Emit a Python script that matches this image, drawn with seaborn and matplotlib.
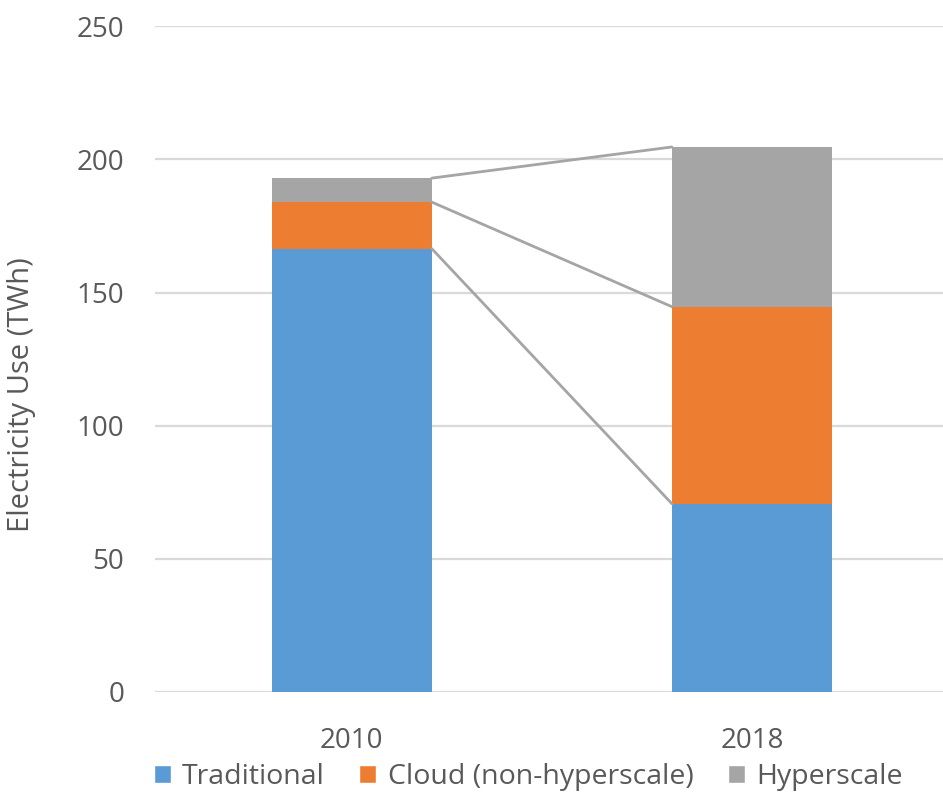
import numpy as np
import pandas as pd
import matplotlib
matplotlib.use("Agg")
import matplotlib.pyplot as plt
import seaborn as sns
from matplotlib.patches import Patch

years = ['2010', '2018']
traditional = [166.5, 70.7]
cloud = [17.5, 74.0]
hyperscale = [9.0, 60.0]

series = ['Traditional', 'Cloud (non-hyperscale)', 'Hyperscale']
colors = ['#5B9BD5', '#ED7D31', '#A5A5A5']
txt = '#595959'

sns.set_style('white')
plt.rcParams['font.family'] = ['Open Sans', 'DejaVu Sans']

cum_trad = np.array(traditional)
cum_cloud = cum_trad + np.array(cloud)
cum_hyper = cum_cloud + np.array(hyperscale)
df = pd.DataFrame({'year': years, 'Traditional': cum_trad,
                   'Cloud (non-hyperscale)': cum_cloud, 'Hyperscale': cum_hyper})

fig = plt.figure(figsize=(9.43, 7.99), dpi=100)
ax = fig.add_axes([0.164, 0.134, 0.836, 0.833])

bw = 0.4
# draw cumulative totals, tallest first, so the stack shows
for name, col in zip(series[::-1], colors[::-1]):
    sns.barplot(data=df, x='year', y=name, color=col, width=bw, ax=ax,
                saturation=1, linewidth=0, zorder=3)

# connector lines between segment tops
for cum in [cum_trad, cum_cloud, cum_hyper]:
    ax.plot([0 + bw / 2, 1 - bw / 2], cum, color='#A5A5A5', lw=2, zorder=4)

ax.set_ylim(0, 250)
ax.set_yticks(range(0, 251, 50))
ax.set_xlim(-0.4925, 1.4775)
ax.yaxis.grid(True, color='#D9D9D9', lw=1.6, zorder=0)
ax.set_axisbelow(True)
for s in ax.spines.values():
    s.set_visible(False)
ax.tick_params(axis='both', length=0, labelsize=20, colors=txt)
ax.tick_params(axis='y', pad=22)
ax.tick_params(axis='x', pad=25)
ax.set_xlabel('')
ax.set_ylabel('Electricity Use (TWh)', fontsize=21, color=txt)
ax.yaxis.set_label_coords(-0.15, 0.446)

handles = [Patch(facecolor=c, label=n) for n, c in zip(series, colors)]
fig.legend(handles=handles, loc='lower center', bbox_to_anchor=(0.56, -0.022),
           ncol=3, frameon=False, fontsize=20.5, handlelength=0.6, handleheight=0.6,
           handletextpad=0.4, columnspacing=1.2, labelcolor=txt)

fig.savefig('out.png', dpi=100)
